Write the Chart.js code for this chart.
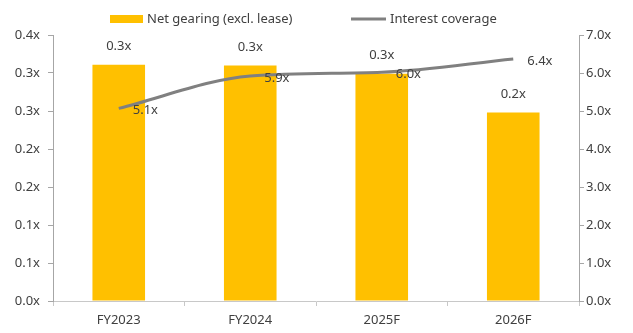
<!DOCTYPE html>
<html lang="en">
<head>
    <meta charset="UTF-8">
    <script src="https://cdn.jsdelivr.net/npm/chart.js"></script>
    <title>Net gearing and interest coverage</title>
    <style>
        body { margin: 0; background: #fff; }
    </style>
</head>
<body>
    <canvas id="myChart" width="633" height="333"></canvas>
    <script>
        const categories = ['FY2023', 'FY2024', '2025F', '2026F'];
        const netGearing = [0.311, 0.310, 0.299, 0.248];
        const interestCoverage = [5.07, 5.92, 6.02, 6.37];
        const seriesNames = ['Net gearing (excl. lease)', 'Interest coverage'];

        const FONT = '"Noto Sans", "DejaVu Sans", sans-serif';
        const barColor = '#FFC000';
        const lineColor = '#808080';

        // Excel-style half-up rounding to one decimal
        const fmt = v => (Math.round(v * 10 + 1e-9) / 10).toFixed(1) + 'x';

        const legendPlugin = {
            id: 'simpleLegend',
            afterDraw(chart) {
                const c = chart.ctx;
                c.save();
                c.font = '13px ' + FONT;
                c.textBaseline = 'middle';
                c.fillStyle = barColor;
                c.fillRect(110, 15, 33, 8);
                c.fillStyle = '#404040';
                c.fillText(seriesNames[0], 147, 19);
                c.strokeStyle = lineColor;
                c.lineWidth = 3;
                c.beginPath();
                c.moveTo(351, 19);
                c.lineTo(386, 19);
                c.stroke();
                c.fillText(seriesNames[1], 390, 19);
                c.restore();
            }
        };

        const labelPlugin = {
            id: 'valueLabels',
            afterDatasetsDraw(chart) {
                const c = chart.ctx;
                c.save();
                c.font = '13px ' + FONT;
                c.fillStyle = '#404040';
                c.textBaseline = 'middle';
                chart.data.datasets.forEach((ds, i) => {
                    const meta = chart.getDatasetMeta(i);
                    meta.data.forEach((el, j) => {
                        const v = ds.data[j];
                        if (ds.type === 'bar') {
                            c.textAlign = 'center';
                            c.fillText(fmt(v), el.x, el.y - 18);
                        } else {
                            c.textAlign = 'left';
                            c.fillText(fmt(v), el.x + 14, el.y + 2);
                        }
                    });
                });
                c.restore();
            }
        };

        const ctx = document.getElementById('myChart').getContext('2d');
        const chart = new Chart(ctx, {
            data: {
                labels: categories,
                datasets: [{
                    type: 'line',
                    label: seriesNames[1],
                    data: interestCoverage,
                    yAxisID: 'y2',
                    borderColor: lineColor,
                    borderWidth: 3,
                    pointRadius: 0,
                    cubicInterpolationMode: 'monotone',
                    order: 0
                }, {
                    type: 'bar',
                    label: seriesNames[0],
                    data: netGearing,
                    yAxisID: 'y',
                    backgroundColor: barColor,
                    barPercentage: 0.4,
                    categoryPercentage: 1.0,
                    order: 1
                }]
            },
            options: {
                responsive: false,
                animation: false,
                layout: { padding: { top: 35, left: 0, right: 0, bottom: 0 } },
                plugins: {
                    legend: { display: false },
                    tooltip: { enabled: false }
                },
                scales: {
                    x: {
                        afterFit: s => { s.height = 32; },
                        grid: { drawOnChartArea: false, color: '#c8c8c8', tickLength: 5, offset: true },
                        border: { color: '#c8c8c8' },
                        ticks: { color: '#404040', font: { family: FONT, size: 13 }, padding: 6 }
                    },
                    y: {
                        position: 'left',
                        min: 0,
                        max: 0.35,
                        afterFit: s => { s.width = 53; },
                        grid: { drawOnChartArea: false, color: '#a6a6a6', tickLength: 5 },
                        border: { color: '#a6a6a6' },
                        ticks: {
                            stepSize: 0.05,
                            color: '#404040',
                            font: { family: FONT, size: 13 },
                            padding: 8,
                            callback: v => fmt(v)
                        }
                    },
                    y2: {
                        position: 'right',
                        min: 0,
                        max: 7,
                        afterFit: s => { s.width = 54; },
                        grid: { drawOnChartArea: false, color: '#a6a6a6', tickLength: 5 },
                        border: { color: '#a6a6a6' },
                        ticks: {
                            stepSize: 1,
                            color: '#404040',
                            font: { family: FONT, size: 13 },
                            padding: 2,
                            callback: v => fmt(v)
                        }
                    }
                }
            },
            plugins: [labelPlugin, legendPlugin]
        });
    </script>
</body>
</html>
